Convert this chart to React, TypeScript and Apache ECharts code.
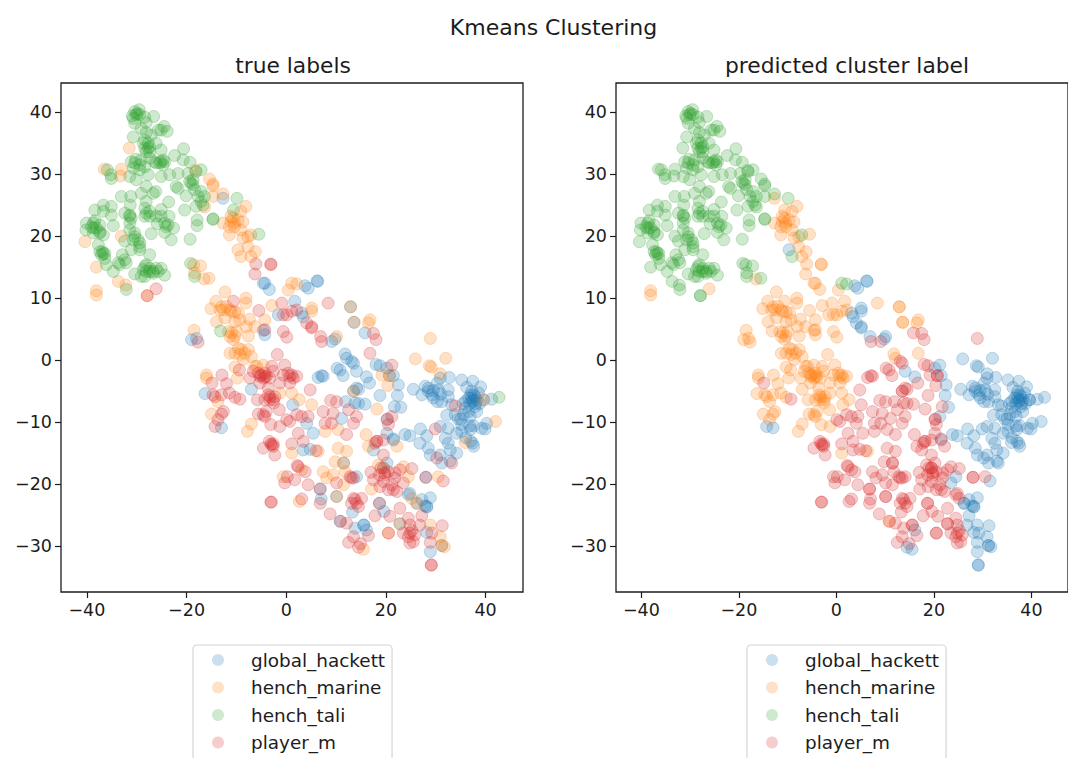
import React, { useEffect, useRef } from "react";
import * as echarts from "echarts";

// Points are grouped by [true label]_[predicted cluster]. B=global_hackett O=hench_marine G=hench_tali R=player_m
const G_G: number[][] = [
[-29.5,40.4],[-30.4,40.1],[-30.9,39.4],[-29.9,39.8],[-30.7,39.0],[-30.4,38.2],[-29.4,39.6],[-28.4,39.2],[-26.6,39.3],[-28.1,38.3],
[-24.5,37.7],[-23.9,36.9],[-25.7,37.1],[-25.1,37.1],[-29.1,37.4],[-30.7,36.0],[-28.1,36.7],[-27.1,36.3],[-28.7,35.0],[-27.7,35.0],
[-26.1,35.0],[-28.4,34.2],[-27.4,34.4],[-25.1,33.9],[-20.6,34.1],[-22.4,33.0],[-20.7,32.3],[-19.3,31.9],[-17.1,30.7],[-18.1,30.4],
[-30.2,32.4],[-31.1,32.0],[-29.1,32.3],[-27.4,32.6],[-26.4,32.0],[-25.4,31.8],[-24.4,32.0],[-29.4,30.7],[-30.7,31.0],[-31.4,29.6],
[-30.1,29.1],[-27.7,29.9],[-25.1,29.6],[-23.4,29.9],[-21.7,30.1],[-19.7,30.1],[-19.1,28.5],[-18.7,29.1],[-22.1,28.0],[-21.7,27.7],
[-20.1,26.5],[-18.4,27.5],[-17.1,27.2],[-16.4,26.4],[-17.1,25.6],[-18.1,24.8],[-35.9,30.7],[-35.2,29.9],[-35.1,29.3],[-28.1,28.0],
[-29.1,26.9],[-26.2,27.2],[-26.7,26.9],[-23.6,25.5],[-33.1,26.4],[-31.2,26.4],[-36.7,25.0],[-38.4,24.2],[-35.1,24.8],[-36.7,24.0],
[-35.1,23.4],[-31.3,25.0],[-28.1,25.6],[-28.4,24.5],[-32.4,23.7],[-31.4,23.2],[-28.4,23.2],[-27.4,23.2],[-25.1,24.3],[-25.1,23.2],
[-23.5,23.2],[-25.9,22.0],[-23.7,21.8],[-24.4,20.6],[-22.6,21.3],[-23.1,19.4],[-19.3,19.5],[-20.4,24.2],[-17.9,22.6],[-17.9,21.7],
[-14.7,22.8],[-14.7,22.7],[-9.9,26.1],[-40.1,22.1],[-38.4,22.5],[-40.2,21.0],[-38.7,21.3],[-37.4,20.5],[-34.7,21.7],[-31.4,22.1],
[-31.4,21.0],[-30.4,20.5],[-32.4,19.2],[-30.7,19.4],[-29.4,18.9],[-27.1,20.4],[-37.7,18.6],[-36.9,17.5],[-36.4,17.2],[-37.1,17.0],
[-32.9,17.0],[-33.7,15.7],[-32.1,15.7],[-36.1,15.4],[-34.7,14.3],[-31.1,17.8],[-29.4,17.8],[-27.4,17.0],[-28.1,15.4],[-28.7,14.6],
[-30.4,13.9],[-29.1,13.5],[-27.4,14.3],[-26.1,14.8],[-24.4,13.7],[-25.1,14.8],[-32.1,11.4],[-19.2,15.6],[-18.4,13.5],[-37.4,21.8],
[-38.7,22.1],[-24.7,32.3],[-28.4,35.5],[-27.7,34.2],[-28.1,33.6],[-28.4,15.1],[-28.1,14.3],[-26.7,14.3],
[-39.1,21.5],[-38.1,21.3],[-37.4,20.7],[-36.7,20.2],[-38.7,20.5],[-36.7,17.2],[-37.4,17.5],[-36.4,16.4],[-33.4,15.4],[-32.4,16.2],
[-27.4,14.8],[-28.4,13.5],[-26.7,14.0],[-25.7,14.3],[-31.4,23.4],[-31.1,22.9],[-28.1,23.7],[-27.4,24.0],[-26.1,23.2],[-24.4,22.1],
[-24.1,21.5],[-30.4,19.9],[-29.7,19.4],[-29.4,18.3],[-19.4,28.8],[-18.7,28.3],[-17.7,26.4],[-16.7,25.0],[-26.1,31.8],[-25.1,32.0],
[-24.7,31.5],[-30.4,31.8],[-29.4,31.5],[-28.4,31.2],[-27.4,33.6],[-30.1,39.6],
];
const G_O: number[][] = [[-10.6,24.2],[-5.5,20.3],[-13.2,4.7]];
const G_B: number[][] = [[42.7,-6.0]];

const O_G: number[][] = [
[-31.5,34.2],[-36.5,30.8],[-33.1,30.8],[-33.3,29.7],[-40.4,19.1],[-33.1,20.0],[-38.1,15.0],[-33.7,12.7],[-32.2,12.1],[-15.4,29.2],
[-14.7,28.4],[-14.7,28.1],[-14.7,26.4],[-12.7,26.8],[-16.4,24.7],[-18.2,30.6],[-9.1,16.7],[-7.1,20.2],[-18.6,15.4],[-17.2,15.2],
[-18.4,14.1],[-15.5,13.2],[-27.9,10.4],[1.1,12.4],[2.1,12.3],
];
const O_O: number[][] = [
[-38.1,11.2],[-38.1,10.5],[-16.5,13.1],[-12.7,22.1],[-11.1,22.3],[-10.7,22.9],[-9.7,22.6],[-8.7,22.3],[-11.4,21.5],[-10.4,21.5],
[-9.1,21.0],[-11.4,20.2],[-8.1,24.8],[-9.1,24.0],[-8.7,19.7],[-7.7,18.3],[-6.2,17.5],[-7.1,16.7],[-7.7,19.9],[-11.1,23.2],
[-10.4,22.1],[-12.3,11.0],[-14.1,9.5],[-15.1,8.3],[-12.6,8.1],[-8.1,10.0],[-8.1,9.2],[-11.3,8.1],[-10.3,7.8],[-14.0,6.2],
[-12.3,6.8],[-10.3,6.2],[-7.4,6.6],[-4.3,6.5],[-8.0,5.4],[-6.3,5.4],[-11.6,4.6],[-11.3,3.8],[-10.3,3.9],[-7.6,3.9],
[-10.6,3.3],[-2.9,8.8],[0.4,11.3],[-18.5,4.8],[-11.3,1.1],[-9.6,1.9],[-7.6,1.7],[-9.3,0.9],[-7.0,0.6],[-8.6,0.1],
[-10.3,-1.1],[-9.8,-2.9],[-5.9,-1.0],[-4.6,-0.8],[-16.0,-2.4],[-16.0,-2.9],[-13.7,-6.7],[-15.0,-8.7],[-7.0,-10.3],[-7.8,-11.5],
[-1.3,-5.3],[1.1,-5.3],[2.6,-6.4],[-13.3,8.1],[-9.3,6.5],[12.9,8.6],[13.6,6.1],[16.8,6.5],[16.5,6.0],[1.1,-15.0],[6.4,-14.7],
[-11.0,7.8],[-12.0,8.7],[-9.6,7.6],[-9.0,1.7],[-10.3,1.1],[-8.3,1.1],[-6.3,-1.0],[-13.0,8.6],[-11.0,4.4],[-10.0,4.6],
];
const O_B: number[][] = [
[-9.7,17.8],[5.1,8.4],[5.1,7.9],[10.1,3.8],[25.9,0.2],[32.0,0.3],[28.7,-0.9],[29.1,-1.1],[30.9,-2.2],[42.0,-9.9],
[35.9,-13.3],[39.6,-6.4],[26.2,-23.1],[15.5,-30.5],[28.9,-26.6],[30.9,-28.5],[31.2,-29.9],[31.7,-30.1],[24.5,-18.8],
];
const O_R: number[][] = [
[5.1,-7.2],[7.8,-11.5],[10.4,-11.2],[13.5,-5.0],[19.2,-2.4],[20.7,-2.5],[20.4,-4.1],[18.2,-7.9],[28.9,3.5],[10.4,-14.2],
[12.1,-14.7],[9.8,-16.4],[11.5,-16.6],[7.4,-18.0],[8.1,-19.0],[9.4,-18.5],[11.8,-18.0],[11.5,-20.1],[-0.6,-18.8],[3.1,-17.7],
[2.6,-22.8],[10.1,-22.0],[22.8,-26.4],[25.2,-22.3],[20.5,-27.9],[17.1,-20.8],[18.5,-16.9],[19.5,-17.4],[23.5,-17.2],[30.5,-18.8],
[16.5,-13.9],[22.2,-13.9],[16.0,-12.0],
];

const B_O: number[][] = [
[-12.7,26.1],[-4.3,12.4],[-3.4,11.4],[-4.6,12.4],[-4.3,4.1],[-4.6,4.8],[-19.0,3.3],[-18.0,3.5],[-7.0,-4.7],[-16.3,-5.4],
[1.7,9.5],[-1.6,7.3],[1.3,-7.2],[11.8,1.0],[12.1,0.3],[12.9,8.6],[13.6,6.1],[10.8,-26.0],
];
const B_B: number[][] = [
[-13.0,-10.9],[3.75,12.0],[4.4,11.6],[6.2,12.8],[6.3,12.7],[3.1,7.6],[3.4,7.0],[9.8,3.4],[14.1,-1.8],[20.2,-1.3],
[21.5,-2.5],[22.5,-4.0],[22.3,-5.7],[23.0,-7.6],[16.1,-2.7],[25.5,-4.7],[27.9,-4.2],[28.5,-4.5],[27.2,-5.6],[29.5,-6.1],
[30.3,-6.7],[31.2,-6.7],[29.2,-5.6],[30.5,-4.8],[30.3,-3.7],[30.9,-2.9],[32.7,-2.8],[32.5,-4.8],[32.5,-5.9],[35.2,-3.2],
[36.2,-4.4],[37.4,-3.4],[39.0,-4.3],[38.6,-5.3],[37.6,-5.6],[37.6,-6.4],[36.6,-6.1],[38.2,-6.4],[37.9,-5.9],[37.2,-6.1],
[41.2,-6.3],[35.9,-7.7],[37.9,-7.5],[36.6,-8.3],[35.6,-8.8],[36.9,-9.1],[38.2,-8.3],[33.2,-7.2],[32.2,-8.9],[33.9,-8.8],
[40.2,-10.2],[39.2,-11.0],[39.9,-11.1],[37.6,-10.6],[35.2,-10.4],[35.2,-11.5],[34.2,-11.8],[32.5,-11.0],[30.9,-10.7],[26.9,-11.1],
[28.2,-12.2],[31.9,-12.6],[37.0,-13.1],[37.6,-13.9],[37.4,-13.4],[39.6,-6.4],[26.2,-23.1],[27.2,-22.5],[28.9,-22.2],[28.2,-23.6],
[28.2,-23.7],[27.8,-23.5],[28.2,-27.8],[31.2,-29.9],[28.9,-30.9],[16.1,-27.4],[26.8,-13.4],[28.5,-14.2],[28.9,-15.3],[30.9,-15.3],
[31.2,-16.6],[32.5,-13.4],[32.9,-14.5],[34.2,-15.0],[32.9,-16.3],[21.5,-12.9],[23.8,-12.0],[24.8,-12.2],
[37.0,-5.6],[37.4,-6.6],[38.0,-7.0],[36.8,-7.0],[37.2,-5.0],[36.0,-6.6],[35.5,-7.0],[38.8,-7.0],[34.5,-9.5],[35.0,-9.5],
[28.5,-5.0],[31.0,-5.5],[29.5,-4.9],[36.8,-10.6],[37.0,-11.2],[36.0,-12.5],
];
const B_R: number[][] = [
[9.1,3.0],[13.1,-0.2],[13.5,-0.5],[10.2,-1.3],[10.8,-1.6],[11.4,-2.5],[7.4,-2.6],[6.4,-2.8],[7.1,-2.5],[4.1,-10.2],
[5.4,-11.8],[11.1,-9.4],[11.9,-6.7],[13.8,-6.9],[14.1,-4.5],[13.5,-5.0],[15.8,4.4],[18.0,-0.7],[18.8,-0.9],[16.7,-3.7],
[14.5,-4.7],[14.5,-7.0],[15.8,-7.1],[18.8,-5.7],[21.7,-7.5],[20.2,-9.6],[20.2,-11.8],[21.5,-12.7],[20.7,-2.5],[3.4,-14.5],
[4.8,-14.4],[6.8,-20.8],[7.0,-22.4],[14.1,-18.8],[10.1,-22.0],[13.3,-24.5],[18.7,-23.1],[19.6,-24.4],[22.8,-26.4],[24.8,-21.5],
[24.5,-21.7],[15.5,-26.6],[15.6,-26.6],[13.8,-27.1],[19.5,-17.4],[20.2,-16.6],[28.0,-18.9],[17.5,-14.5],[11.5,-16.6],
];

const R_G: number[][] = [[-27.9,10.4]];
const R_O: number[][] = [
[-26.1,11.5],[-6.1,15.5],[-6.3,13.9],[-3.1,15.5],[-3.1,15.4],[-10.6,9.5],[-5.5,8.0],[-4.3,4.9],[-0.6,4.6],[0.1,3.7],
[-17.7,2.9],[-1.8,0.9],[-9.4,-1.6],[-2.9,-1.0],[-0.3,-0.8],[-6.6,-1.8],[-4.3,-2.1],[-7.3,-2.9],[-5.3,-2.6],[-4.0,-2.6],
[-3.3,-2.9],[-1.3,-3.7],[0.4,-2.1],[1.4,-2.9],[2.1,-2.6],[-0.6,-2.4],[0.7,-3.7],[-2.6,-1.8],[-5.3,-3.7],[-12.9,-2.4],
[-12.0,-3.8],[-14.7,-5.6],[-14.3,-5.9],[-13.0,-5.6],[-11.4,-5.3],[-10.3,-6.0],[-12.6,-8.3],[-13.0,-8.7],[-13.7,-9.6],[-5.8,-6.4],
[-3.6,-4.5],[-3.3,-5.9],[-2.6,-6.4],[-4.0,-8.3],[-5.6,-8.7],[-4.6,-8.8],[-1.4,-8.0],[-3.1,-10.4],[-1.3,-10.7],[-2.5,-6.9],
[-4.3,-6.4],[8.4,9.2],[-0.9,9.2],[0.1,7.3],[-0.6,7.3],[1.1,7.9],[2.1,8.1],[16.8,1.1],
[-5.0,-2.4],[-4.6,-2.9],[-4.3,-2.7],[0.7,-2.6],[1.1,-2.4],[-3.3,-6.4],[-3.6,-5.6],[-4.3,-9.1],[-5.6,-2.1],[-2.3,-5.9],
];
const R_B: number[][] = [
[4.1,6.0],[5.1,5.4],[5.1,5.2],[6.9,3.8],[-14.3,-10.7],[21.2,-0.8],[33.9,-7.4],[29.9,-11.1],[21.2,-9.1],[27.2,-25.1],
[26.8,-26.6],[14.5,-30.2],[31.3,-26.7],[29.2,-27.9],[28.9,-29.4],[29.1,-33.0],[29.1,-33.1],[23.5,-19.8],[31.5,-19.5],[30.2,-15.8],
[33.2,-16.6],
];
const R_R: number[][] = [
[-14.9,-3.7],[-9.3,-6.3],[7.1,3.0],[0.1,-9.6],[0.7,-9.9],[2.1,-8.8],[3.1,-9.1],[4.4,-9.1],[2.4,-11.8],[4.8,-4.8],
[7.4,-8.3],[8.9,-6.5],[10.1,-6.7],[12.5,-8.0],[7.8,-10.2],[9.4,-8.6],[13.5,-10.2],[12.1,-12.0],[9.1,-10.2],[17.5,4.3],
[18.0,3.3],[20.3,-9.5],[20.5,-10.4],[19.5,-12.9],[18.2,-13.1],[14.1,-9.1],[-3.4,-13.1],[-4.6,-14.2],
[-2.6,-13.5],[-2.3,-15.3],[-2.9,-13.7],[1.1,-13.5],[3.4,-13.1],[6.0,-14.6],[2.2,-17.0],[0.2,-18.8],[-0.3,-19.8],[1.7,-19.3],
[3.8,-18.0],[4.4,-20.1],[6.8,-20.8],[6.8,-23.1],[-3.1,-22.9],[-3.0,-22.9],[3.1,-22.4],[10.1,-19.8],[12.8,-18.8],[13.5,-19.0],
[8.8,-24.8],[10.9,-26.0],[12.1,-26.3],[15.1,-22.3],[13.8,-22.5],[13.1,-23.1],[14.5,-23.6],[18.7,-23.1],[17.8,-25.1],[20.8,-25.2],
[22.8,-23.9],[24.5,-25.5],[24.8,-26.6],[23.5,-27.9],[24.8,-27.9],[25.8,-28.2],[20.5,-27.9],[16.5,-28.3],[13.5,-28.5],[12.5,-29.4],
[14.9,-29.6],[24.8,-29.5],[25.5,-29.3],[17.0,-18.1],[17.5,-19.3],[18.8,-20.4],[20.5,-20.9],[22.2,-21.2],[22.8,-17.7],[21.8,-19.0],
[21.8,-18.2],[19.8,-18.5],[25.2,-17.5],[28.0,-18.9],[17.8,-13.4],[18.1,-13.1],[19.5,-15.3],
[-3.1,-13.5],[-2.6,-13.9],[19.5,-19.6],[21.5,-20.9],[21.2,-20.1],[24.5,-28.5],[25.2,-27.5],[13.5,-22.3],[14.1,-23.1],[2.4,-17.2],
[13.1,-19.0],[19.7,-18.2],[18.7,-18.5],[20.4,-18.0],[19.0,-17.4],
];

const labels = ["global_hackett", "hench_marine", "hench_tali", "player_m"];
const rgb = ["31,119,180", "255,127,14", "44,160,44", "214,39,40"];
const xTicks = [-40, -20, 0, 20, 40];
const yTicks = [-30, -20, -10, 0, 10, 20, 30, 40];

const trueGroups = [
  [...B_O, ...B_B, ...B_R],
  [...O_G, ...O_O, ...O_B, ...O_R],
  [...G_G, ...G_O, ...G_B],
  [...R_G, ...R_O, ...R_B, ...R_R],
];
const predGroups = [
  [...B_B, ...O_B, ...G_B, ...R_B],
  [...B_O, ...O_O, ...G_O, ...R_O],
  [...G_G, ...O_G, ...R_G],
  [...B_R, ...O_R, ...R_R],
];

const FONT = "DejaVu Sans";
const INK = "#1c1c1c";
const fmt = (v: number) => String(v).replace("-", "\u2212");

function xAxis(gridIndex: number) {
  return {
    type: "value", gridIndex, min: -45.2, max: 47.5, splitLine: { show: false },
    axisLine: { show: false, onZero: false },
    axisTick: { show: true, length: 6, customValues: xTicks, lineStyle: { color: INK, width: 1.2 } },
    axisLabel: { show: true, customValues: xTicks, formatter: fmt, color: INK, fontFamily: FONT, fontSize: 17.5, margin: 9 },
  };
}
function yAxis(gridIndex: number) {
  return {
    type: "value", gridIndex, min: -37.4, max: 44.7, splitLine: { show: false },
    axisLine: { show: false, onZero: false },
    axisTick: { show: true, length: 6, customValues: yTicks, lineStyle: { color: INK, width: 1.2 } },
    axisLabel: { show: true, customValues: yTicks, formatter: fmt, color: INK, fontFamily: FONT, fontSize: 17.5, margin: 9 },
  };
}
function legend(left: number) {
  return {
    orient: "vertical", left, top: 645, height: 160, selectedMode: false,
    data: labels.map((name) => ({ name, icon: "circle", itemStyle: { borderWidth: 0 } })),
    itemWidth: 12, itemHeight: 12, itemGap: 9.5,
    padding: [6, 7, 30, 19],
    backgroundColor: "#fff", borderColor: "#d5d5d5", borderWidth: 1.2, borderRadius: 4,
    textStyle: { color: INK, fontFamily: FONT, fontSize: 18.4, padding: [0, 0, 0, 22] },
  };
}
function scatter(groups: number[][][], axisIndex: number) {
  return groups.map((data, i) => ({
    type: "scatter", name: labels[i], data, xAxisIndex: axisIndex, yAxisIndex: axisIndex,
    symbol: "circle", symbolSize: 12,
    itemStyle: { color: `rgba(${rgb[i]},0.23)`, borderColor: `rgba(${rgb[i]},0.25)`, borderWidth: 1, opacity: 1 },
    emphasis: { disabled: true }, silent: true,
  }));
}

export default function App() {
  const ref = useRef<HTMLDivElement>(null);
  useEffect(() => {
    const chart = echarts.init(ref.current!, undefined, { renderer: "svg" });
    chart.setOption({
      animation: false,
      backgroundColor: "#fff",
      title: [
        { text: "Kmeans Clustering", left: 548.5, top: 11, textAlign: "center", textStyle: { fontFamily: FONT, fontSize: 22, fontWeight: "normal", color: INK } },
        { text: "true labels", left: 288, top: 49, textAlign: "center", textStyle: { fontFamily: FONT, fontSize: 21.8, fontWeight: "normal", color: INK } },
        { text: "predicted cluster label", left: 842, top: 49, textAlign: "center", textStyle: { fontFamily: FONT, fontSize: 21.8, fontWeight: "normal", color: INK } },
      ],
      grid: [
        { left: 61, top: 83, width: 462, height: 509, show: true, borderColor: INK, borderWidth: 1.3, backgroundColor: "#fff" },
        { left: 616, top: 83, width: 464, height: 509, show: true, borderColor: INK, borderWidth: 1.3, backgroundColor: "#fff" },
      ],
      xAxis: [xAxis(0), xAxis(1)],
      yAxis: [yAxis(0), yAxis(1)],
      legend: [legend(193), legend(747)],
      series: [...scatter(trueGroups, 0), ...scatter(predGroups, 1)],
    });
    return () => chart.dispose();
  }, []);
  return <div ref={ref} style={{ position: "absolute", left: 0, top: 0, width: 1068, height: 758, overflow: "hidden" }} />;
}
